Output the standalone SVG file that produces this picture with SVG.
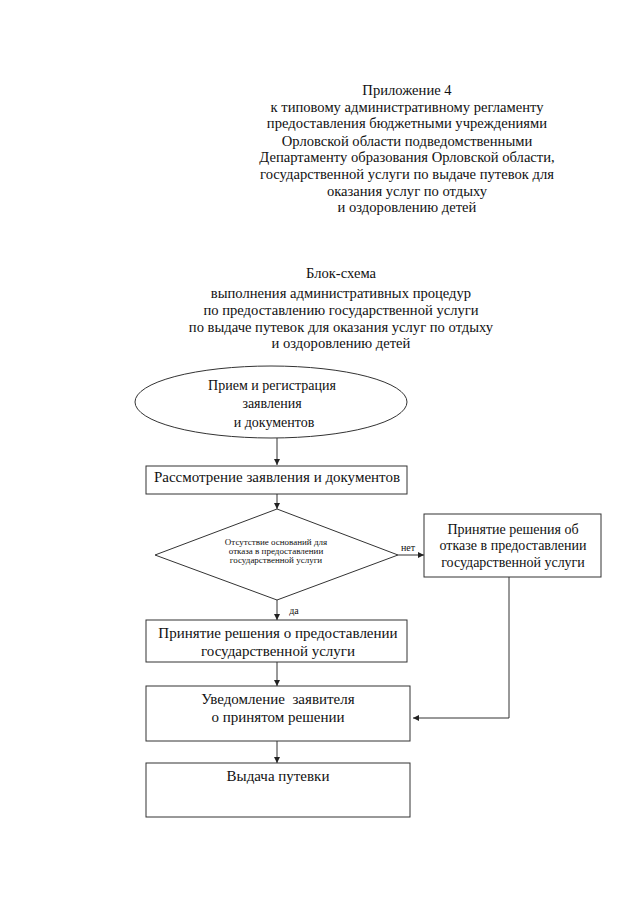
<svg xmlns="http://www.w3.org/2000/svg" width="640" height="905" viewBox="0 0 640 905">
<defs>
<marker id="arr" viewBox="0 0 10 10" refX="10" refY="5" markerWidth="6" markerHeight="6" orient="auto" markerUnits="userSpaceOnUse">
<path d="M0,0 L10,5 L0,10 z" fill="#222"/>
</marker>
</defs>
<style>
text{font-family:"Liberation Serif","Times New Roman",serif;fill:#111;text-anchor:middle}
.h{font-size:14.6px}
.n{font-size:14px}
.b{font-size:15px}
.s{font-size:9px}
.l{font-size:10px}
.shape{fill:#fff;stroke:#333;stroke-width:1}
.c{fill:none;stroke:#333;stroke-width:1}
</style>
<rect width="640" height="905" fill="#fff"/>
<g id="header">
<text class="h" x="407" y="95">Приложение 4</text>
<text class="h" x="407" y="112">к типовому административному регламенту</text>
<text class="h" x="407" y="128">предоставления бюджетными учреждениями</text>
<text class="h" x="407" y="146">Орловской области подведомственными</text>
<text class="h" x="407" y="162">Департаменту образования Орловской области,</text>
<text class="h" x="407" y="179">государственной услуги по выдаче путевок для</text>
<text class="h" x="407" y="196">оказания услуг по отдыху</text>
<text class="h" x="407" y="212">и оздоровлению детей</text>
</g>
<g id="title">
<text class="h" x="341" y="278">Блок-схема</text>
<text class="h" x="341" y="298">выполнения административных процедур</text>
<text class="h" x="341" y="315">по предоставлению государственной услуги</text>
<text class="h" x="341" y="332">по выдаче путевок для оказания услуг по отдыху</text>
<text class="h" x="341" y="348">и оздоровлению детей</text>
</g>
<g id="connectors">
<line class="c" x1="277" y1="438" x2="277" y2="465" marker-end="url(#arr)"/>
<line class="c" x1="277" y1="494" x2="277" y2="509" marker-end="url(#arr)"/>
<line class="c" x1="398" y1="555" x2="424" y2="555" marker-end="url(#arr)"/>
<line class="c" x1="277" y1="600" x2="277" y2="620" marker-end="url(#arr)"/>
<line class="c" x1="277" y1="662" x2="277" y2="686" marker-end="url(#arr)"/>
<line class="c" x1="277" y1="741" x2="277" y2="763" marker-end="url(#arr)"/>
<polyline class="c" points="509,577 509,718 413,718" marker-end="url(#arr)"/>
<text class="l" x="408" y="551">нет</text>
<text class="l" x="294" y="614">да</text>
</g>
<g id="n1">
<ellipse class="shape" cx="271" cy="402" rx="136" ry="36"/>
<text class="n" x="272" y="390">Прием и регистрация</text>
<text class="n" x="272" y="408">заявления</text>
<text class="n" x="274" y="427">и документов</text>
</g>
<g id="n2">
<rect class="shape" x="146" y="466" width="261" height="28"/>
<text class="b" x="277" y="482">Рассмотрение заявления и документов</text>
</g>
<g id="n3">
<polygon class="shape" points="277,509 398,555 277,600 155,555"/>
<text class="s" x="276" y="545">Отсутствие оснований для</text>
<text class="s" x="276" y="554">отказа в предоставлении</text>
<text class="s" x="276" y="563">государственной услуги</text>
</g>
<g id="n4">
<rect class="shape" x="424" y="514" width="177" height="63"/>
<text class="n" x="513" y="534">Принятие решения об</text>
<text class="n" x="513" y="550">отказе в предоставлении</text>
<text class="n" x="513" y="567">государственной услуги</text>
</g>
<g id="n5">
<rect class="shape" x="146" y="620" width="261" height="42"/>
<text class="b" x="278" y="638">Принятие решения о предоставлении</text>
<text class="b" x="278" y="656">государственной услуги</text>
</g>
<g id="n6">
<rect class="shape" x="146" y="686" width="264" height="55"/>
<text class="b" x="278" y="704" xml:space="preserve">Уведомление  заявителя</text>
<text class="b" x="278" y="722">о принятом решении</text>
</g>
<g id="n7">
<rect class="shape" x="146" y="763" width="264" height="54"/>
<text class="b" x="278" y="781">Выдача путевки</text>
</g>
</svg>
